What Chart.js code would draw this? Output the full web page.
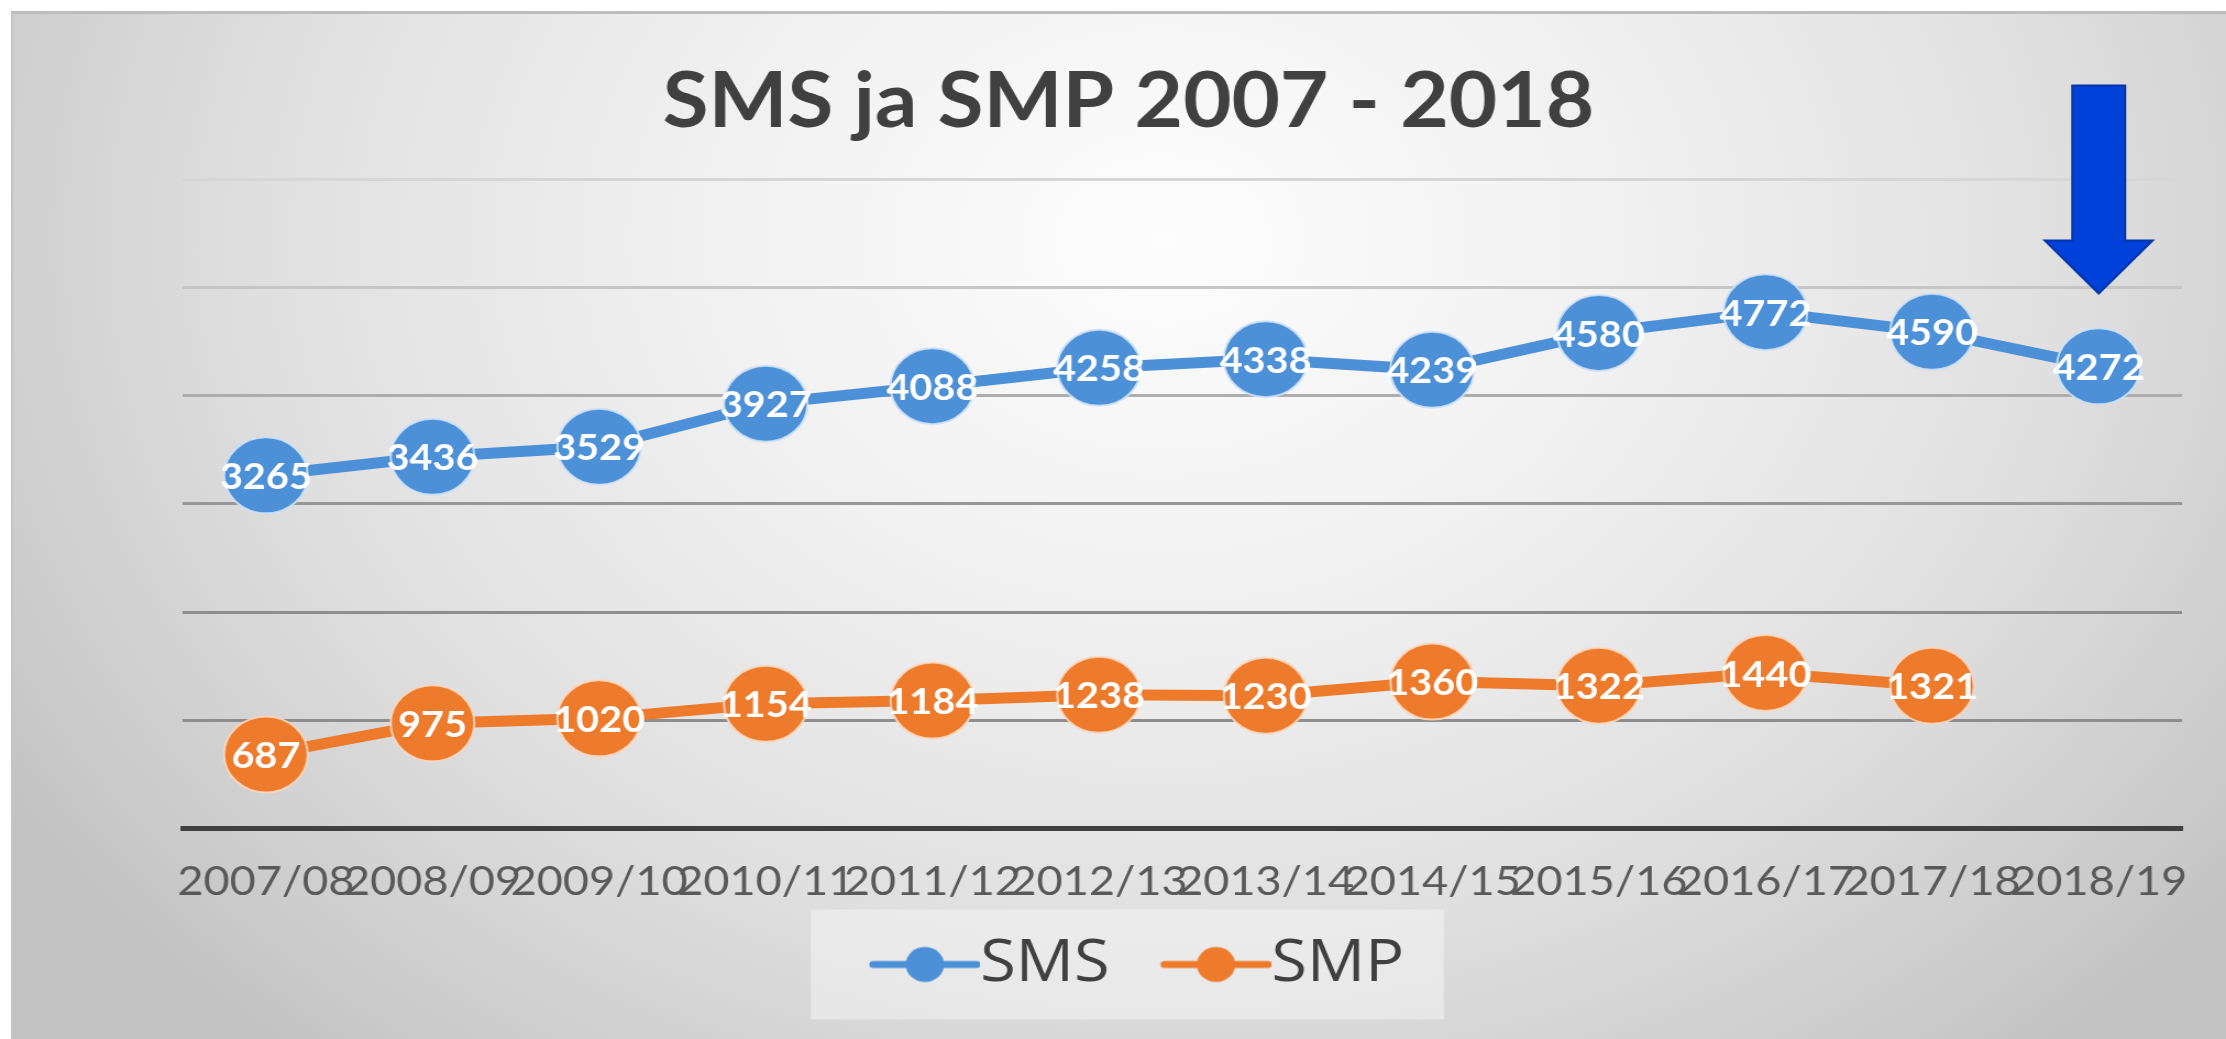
<!DOCTYPE html>
<html>
<head>
<meta charset="utf-8">
<script src="https://cdn.jsdelivr.net/npm/chart.js@4.4.1/dist/chart.umd.min.js"></script>
<style>
  html, body { margin: 0; padding: 0; background: #fff; overflow: hidden; }
  #bg {
    position: absolute; left: 11px; top: 11px; width: 2215px; height: 1028px;
    box-sizing: border-box;
    border-top: 3px solid #bdbdbd; border-left: 2px solid #c4c4c4;
    background: radial-gradient(ellipse 62% 105% at 52% 22%, #fdfdfd 0%, #f0f0f0 35%, #e0e0e0 65%, #cdcdcd 88%, #c2c2c2 100%);
  }
  /* the original picture is a bit wider than tall, so stretch the canvas sideways */
  #myChart { position: absolute; left: 0; top: 0; transform: scaleX(1.0998); transform-origin: 0 0; }
</style>
</head>
<body>
<div id="bg"></div>
<canvas id="myChart" width="2024" height="1039"></canvas>
<script>
var years = ['2007/08', '2008/09', '2009/10', '2010/11', '2011/12', '2012/13',
             '2013/14', '2014/15', '2015/16', '2016/17', '2017/18', '2018/19'];
var smsValues = [3265, 3436, 3529, 3927, 4088, 4258, 4338, 4239, 4580, 4772, 4590, 4272];
var smpValues = [687, 975, 1020, 1154, 1184, 1238, 1230, 1360, 1322, 1440, 1321, null];

var blue = '#4C90D8';
var orange = '#EE7A2C';
var legendPad = 1;
var legendFont = 59;
var markerGap = 46;   // empty space left of each legend line

// legend marker: short line with a dot, like the Excel legend
function legendMarker(color) {
    var c = document.createElement('canvas');
    c.width = 175; c.height = 40;
    var g = c.getContext('2d');
    g.strokeStyle = color;
    g.lineWidth = 7;
    g.lineCap = 'round';
    g.beginPath(); g.moveTo(78, 20); g.lineTo(172, 20); g.stroke();
    g.fillStyle = color;
    g.beginPath(); g.arc(125, 20, 17.5, 0, Math.PI * 2); g.fill();
    return c;
}
var markers = [legendMarker(blue), legendMarker(orange)];

// white numbers on top of the points
var valueLabels = {
    id: 'valueLabels',
    afterDatasetsDraw: function(chart) {
        var ctx = chart.ctx;
        ctx.save();
        ctx.font = 'bold 36px Lato';
        ctx.fillStyle = '#ffffff';
        ctx.textAlign = 'center';
        ctx.textBaseline = 'middle';
        chart.data.datasets.forEach(function(ds, i) {
            chart.getDatasetMeta(i).data.forEach(function(pt, j) {
                if (ds.data[j] == null) return;
                ctx.fillText(String(ds.data[j]), pt.x, pt.y + 2);
            });
        });
        ctx.restore();
    }
};

// title and legend sit a little left of the plot centre in the original
var shiftBoxes = {
    id: 'shiftBoxes',
    afterLayout: function(chart) {
        var t = chart.titleBlock;
        var dt = 1026 - (t.left + t.right) / 2;
        t.left += dt; t.right += dt;
        var lg = chart.legend;
        var dl = 1034 - markerGap / 2 - (lg.left + lg.right) / 2;
        lg.left += dl; lg.right += dl;
    }
};

// light box behind the legend + the blue arrow
var decorations = {
    id: 'decorations',
    beforeDraw: function(chart) {
        var lg = chart.legend;
        if (!lg || !lg.lineWidths) return;
        var lw = lg.lineWidths[0];
        var x0 = (lg.left + legendPad + lg.right - lw) / 2;
        var textEnd = x0 + lw - legendPad;
        var cy = lg.top + legendPad + legendFont / 2;
        var left = x0 + markerGap - 54;
        var ctx = chart.ctx;
        ctx.save();
        ctx.fillStyle = 'rgba(242,242,242,0.6)';
        ctx.fillRect(left, cy - 55, textEnd + 36 - left, 110);
        ctx.restore();
    },
    afterDraw: function(chart) {
        var ctx = chart.ctx;
        var cx = chart.scales.x.getPixelForValue(years.length - 1);
        var tip = chart.scales.y.getPixelForValue(5000) + 6;
        ctx.save();
        ctx.beginPath();
        ctx.moveTo(cx - 24, tip - 208);
        ctx.lineTo(cx + 24, tip - 208);
        ctx.lineTo(cx + 24, tip - 53);
        ctx.lineTo(cx + 49, tip - 53);
        ctx.lineTo(cx, tip);
        ctx.lineTo(cx - 49, tip - 53);
        ctx.lineTo(cx - 24, tip - 53);
        ctx.closePath();
        ctx.fillStyle = '#0041D9';
        ctx.fill();
        ctx.lineWidth = 2;
        ctx.strokeStyle = '#0533A8';
        ctx.stroke();
        ctx.restore();
    }
};

var gridColors = {0: '#404040', 1000: '#8e8e8e', 2000: '#8e8e8e', 3000: '#979797',
                  4000: '#adadad', 5000: '#c6c6c6', 6000: '#d6d6d6'};

var ctx = document.getElementById('myChart').getContext('2d');
var myChart = new Chart(ctx, {
    type: 'line',
    data: {
        labels: years,
        datasets: [{
            label: 'SMS',
            data: smsValues,
            borderColor: blue,
            backgroundColor: blue,
            borderWidth: 11,
            pointRadius: 38,
            pointBackgroundColor: blue,
            pointBorderColor: 'rgba(205,225,245,0.9)',
            pointBorderWidth: 2,
            tension: 0
        }, {
            label: 'SMP',
            data: smpValues,
            borderColor: orange,
            backgroundColor: orange,
            borderWidth: 11,
            pointRadius: 38,
            pointBackgroundColor: orange,
            pointBorderColor: 'rgba(250,215,190,0.9)',
            pointBorderWidth: 2,
            tension: 0
        }]
    },
    options: {
        responsive: false,
        animation: false,
        layout: { padding: { left: 166, right: 37, top: 0, bottom: 35 } },
        scales: {
            x: {
                offset: true,
                grid: { display: false, drawTicks: false },
                border: { color: '#404040', width: 5 },
                ticks: {
                    autoSkip: false, maxRotation: 0, minRotation: 0,
                    padding: 28,
                    color: '#595959',
                    font: { family: 'Lato', size: 41 }
                }
            },
            y: {
                min: 0,
                max: 6000,
                ticks: { display: false, stepSize: 1000 },
                border: { display: false },
                grid: {
                    drawTicks: false,
                    color: function(c) { return gridColors[c.tick.value] || '#999'; },
                    lineWidth: function(c) { return c.tick.value === 0 ? 5 : 3; }
                }
            }
        },
        plugins: {
            title: {
                display: true,
                text: 'SMS ja SMP 2007 - 2018',
                color: '#404040',
                font: { family: 'Lato', size: 76, weight: 'bold', lineHeight: 1.2 },
                padding: { top: 57, bottom: 31 }
            },
            legend: {
                position: 'bottom',
                labels: {
                    usePointStyle: true,
                    pointStyleWidth: markerGap + 100 - legendFont / 2,
                    padding: legendPad,
                    color: '#404040',
                    font: { family: 'Open Sans', size: legendFont },
                    generateLabels: function(chart) {
                        var items = Chart.defaults.plugins.legend.labels.generateLabels(chart);
                        items.forEach(function(it, i) { it.pointStyle = markers[i]; });
                        return items;
                    }
                }
            },
            tooltip: { enabled: false }
        }
    },
    plugins: [valueLabels, shiftBoxes, decorations]
});
</script>
</body>
</html>
